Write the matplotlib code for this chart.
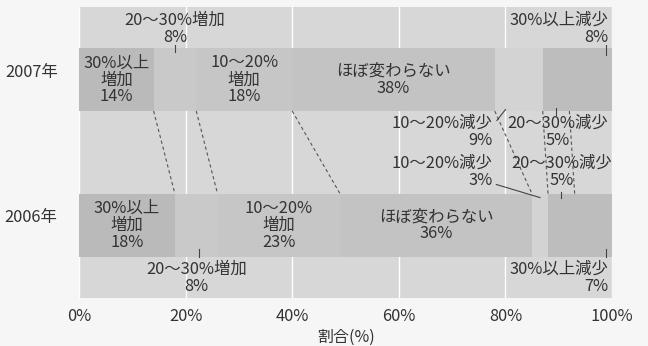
import matplotlib
matplotlib.use("Agg")
import matplotlib.pyplot as plt
import numpy as np

plt.rcParams['font.family'] = ['Noto Sans CJK JP', 'DejaVu Sans']

years = ["2007年", "2006年"]
categories = ["30%以上増加", "20～30%増加", "10～20%増加", "ほぼ変わらない",
              "10～20%減少", "20～30%減少", "30%以上減少"]
values_2007 = [14, 8, 18, 38, 9, 5, 8]
values_2006 = [18, 8, 23, 36, 3, 5, 7]
x_ticks = [0, 20, 40, 60, 80, 100]
x_tick_labels = ["0%", "20%", "40%", "60%", "80%", "100%"]
x_label = "割合(%)"

colors = ["#bababa", "#c9c9c9", "#c6c6c6", "#c3c3c3", "#d3d3d3", "#bdbdbd", "#bdbdbd"]
bg = "#d7d7d7"
page = "#f6f6f6"
ink = "#333333"
fs = 11.8

fig = plt.figure(figsize=(6.48, 3.46), dpi=100, facecolor=page)
ax = fig.add_axes([79 / 648, 1 - 298 / 346, 533 / 648, 291 / 346])
ax.set_facecolor(bg)

rows = [values_2007, values_2006]
bar_h = 0.43
for yi, vals in enumerate(rows):
    left = np.concatenate([[0], np.cumsum(vals)[:-1]])
    ax.barh(yi, vals, left=left, height=bar_h, color=colors, edgecolor="none", zorder=2)

ax.set_xlim(0, 100)
ax.set_ylim(1.5, -0.5)
ax.set_xticks(x_ticks)
ax.set_xticklabels(x_tick_labels, fontsize=fs, color=ink)
ax.tick_params(axis="x", length=0, pad=7)
ax.set_yticks([])
for s in ax.spines.values():
    s.set_visible(False)
ax.grid(axis="x", color="white", lw=1.0, zorder=1)
ax.set_axisbelow(True)
ax.set_xlabel(x_label, fontsize=11.5, color=ink, labelpad=3)

# year labels on the left
for yi, name in enumerate(years):
    ax.text(-4.0, yi - 0.05, name, ha="right", va="center", fontsize=fs,
            color=ink, clip_on=False)

# dashed connectors between matching segment boundaries
c07 = np.cumsum(values_2007)[:-1]
c06 = np.cumsum(values_2006)[:-1]
y_top = 0 + bar_h / 2
y_bot = 1 - bar_h / 2
for a, b in zip(c07, c06):
    ax.plot([a, b], [y_top, y_bot], ls=(0, (3, 2.5)), color="#555555", lw=0.8, zorder=3)

lab = dict(ha="center", va="center", fontsize=fs, color=ink, linespacing=1.0, zorder=5)

# labels inside the bars
def mid(vals, i):
    return sum(vals[:i]) + vals[i] / 2

ax.text(mid(values_2007, 0), 0, f"30%以上\n増加\n{values_2007[0]}%", **lab)
ax.text(mid(values_2007, 2), 0, f"10～20%\n増加\n{values_2007[2]}%", **lab)
ax.text(mid(values_2007, 3), 0, f"ほぼ変わらない\n{values_2007[3]}%", **lab)
ax.text(mid(values_2006, 0), 1, f"30%以上\n増加\n{values_2006[0]}%", **lab)
ax.text(mid(values_2006, 2), 1, f"10～20%\n増加\n{values_2006[2]}%", **lab)
ax.text(mid(values_2006, 3), 1, f"ほぼ変わらない\n{values_2006[3]}%", **lab)

# outside labels with short leader ticks
tick_kw = dict(color="#444444", lw=0.8, zorder=4)

# 2007: 20-30% increase (above)
x = mid(values_2007, 1)
ax.text(x, -0.35, f"20～30%増加\n{values_2007[1]}%", **lab)
ax.plot([x, x], [-0.24, -0.19], **tick_kw)

# 2007: 30%+ decrease (above, right)
lab_r = dict(lab, ha="right")
ax.text(99.3, -0.35, f"30%以上減少\n{values_2007[6]}%", **lab_r)
ax.plot([98.8, 98.8], [-0.24, -0.17], **tick_kw)

# 2007: 10-20% decrease (below)
ax.text(77.6, 0.36, f"10～20%減少\n{values_2007[4]}%", **lab_r)
ax.plot([78.4, 80.0], [0.28, 0.205], color="#444444", lw=0.8, zorder=4)

# 2007: 20-30% decrease (below)
x = mid(values_2007, 5)
ax.text(x + 0.3, 0.36, f"20～30%減少\n{values_2007[5]}%", **lab)
ax.plot([x, x], [0.195, 0.245], **tick_kw)

# 2006: 10-20% decrease (above)
ax.text(77.6, 0.635, f"10～20%減少\n{values_2006[4]}%", **lab_r)
ax.plot([78.3, 86.5], [0.72, 0.81], color="#444444", lw=0.8, zorder=4)

# 2006: 20-30% decrease (above)
x = mid(values_2006, 5)
ax.text(x, 0.635, f"20～30%減少\n{values_2006[5]}%", **lab)
ax.plot([x, x], [0.77, 0.815], **tick_kw)

# 2006: 20-30% increase (below)
x = mid(values_2006, 1)
ax.text(x, 1.36, f"20～30%増加\n{values_2006[1]}%", **lab)
ax.plot([x + 0.5, x + 0.5], [1.16, 1.22], **tick_kw)

# 2006: 30%+ decrease (below, right)
ax.text(99.3, 1.36, f"30%以上減少\n{values_2006[6]}%", **lab_r)
ax.plot([98.8, 98.8], [1.16, 1.22], **tick_kw)

fig.savefig("out.png", dpi=100, facecolor=page)
